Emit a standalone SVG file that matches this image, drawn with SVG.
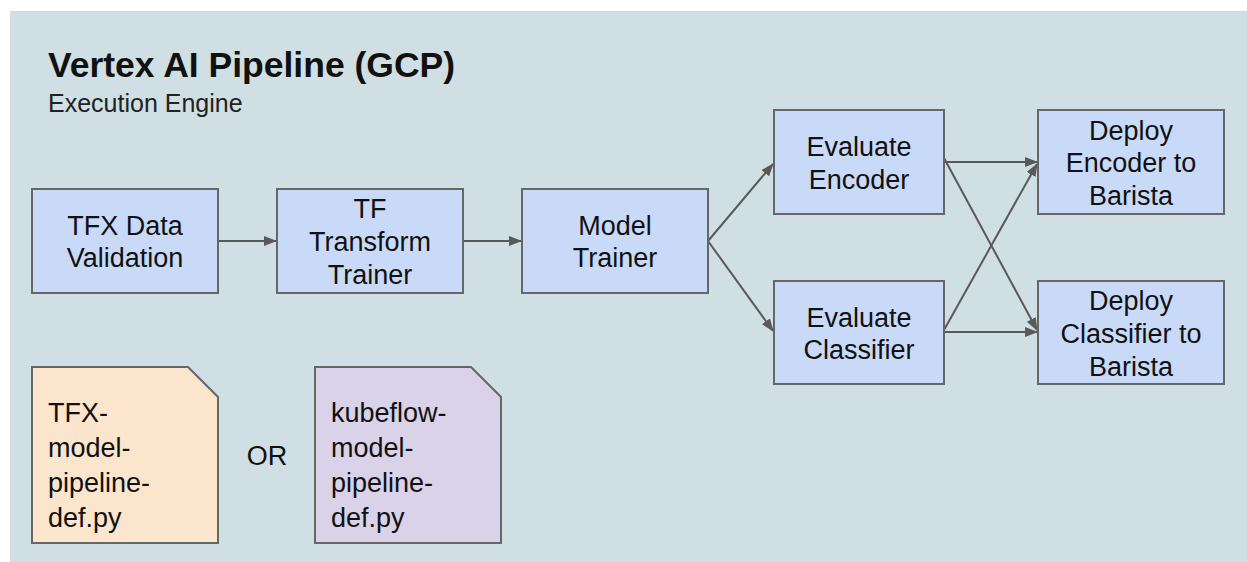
<svg xmlns="http://www.w3.org/2000/svg" width="1247" height="562" viewBox="0 0 1247 562">
<defs>
<style>
.box{fill:#c9daf8;stroke:#666;stroke-width:2}
.t{font-family:"Liberation Sans",Arial,sans-serif;font-size:27px;fill:#111;text-anchor:middle}
.d{font-family:"Liberation Sans",Arial,sans-serif;font-size:27px;fill:#111}
.c{stroke:#595959;stroke-width:2;fill:none;marker-end:url(#ah)}
</style>
<marker id="ah" markerWidth="13" markerHeight="10" refX="12" refY="5" orient="auto" markerUnits="userSpaceOnUse"><path d="M0,0 L13,5 L0,10 Z" fill="#595959"/></marker>
</defs>
<rect x="0" y="0" width="1247" height="562" fill="#ffffff"/>
<rect x="10" y="11" width="1237" height="551" fill="#d0dfe3"/>
<text x="48" y="77" font-family="Liberation Sans,Arial,sans-serif" font-size="35.5" font-weight="bold" fill="#111">Vertex AI Pipeline (GCP)</text>
<text x="48" y="112" font-family="Liberation Sans,Arial,sans-serif" font-size="25" fill="#222">Execution Engine</text>
<g id="connectors">
<line class="c" x1="218" y1="241" x2="276" y2="241"/>
<line class="c" x1="463" y1="241" x2="521" y2="241"/>
<line class="c" x1="708" y1="241" x2="773" y2="164"/>
<line class="c" x1="708" y1="241" x2="773" y2="331"/>
<line class="c" x1="944" y1="162" x2="1037" y2="162"/>
<line class="c" x1="944" y1="158" x2="1037" y2="330"/>
<line class="c" x1="944" y1="332" x2="1037" y2="332"/>
<line class="c" x1="944" y1="330" x2="1037" y2="164"/>
</g>
<g id="tfx-data-validation">
<rect class="box" x="32" y="189" width="186" height="104"/>
<text class="t" x="125" y="235">TFX Data</text>
<text class="t" x="125" y="267">Validation</text>
</g>
<g id="tf-transform-trainer">
<rect class="box" x="277" y="189" width="186" height="104"/>
<text class="t" x="370" y="218">TF</text>
<text class="t" x="370" y="251">Transform</text>
<text class="t" x="370" y="284">Trainer</text>
</g>
<g id="model-trainer">
<rect class="box" x="522" y="189" width="186" height="104"/>
<text class="t" x="615" y="235">Model</text>
<text class="t" x="615" y="267">Trainer</text>
</g>
<g id="evaluate-encoder">
<rect class="box" x="774" y="110" width="170" height="104"/>
<text class="t" x="859" y="156">Evaluate</text>
<text class="t" x="859" y="189">Encoder</text>
</g>
<g id="evaluate-classifier">
<rect class="box" x="774" y="281" width="170" height="103"/>
<text class="t" x="859" y="327">Evaluate</text>
<text class="t" x="859" y="359">Classifier</text>
</g>
<g id="deploy-encoder">
<rect class="box" x="1038" y="110" width="186" height="104"/>
<text class="t" x="1131" y="140">Deploy</text>
<text class="t" x="1131" y="172">Encoder to</text>
<text class="t" x="1131" y="205">Barista</text>
</g>
<g id="deploy-classifier">
<rect class="box" x="1038" y="281" width="186" height="103"/>
<text class="t" x="1131" y="310">Deploy</text>
<text class="t" x="1131" y="343">Classifier to</text>
<text class="t" x="1131" y="376">Barista</text>
</g>
<g id="tfx-doc">
<path d="M32,367 H188 L218,397 V543 H32 Z" fill="#fce5cd" stroke="#666" stroke-width="2"/>
<text class="d" x="48" y="422">TFX-</text>
<text class="d" x="48" y="457">model-</text>
<text class="d" x="48" y="492">pipeline-</text>
<text class="d" x="48" y="527">def.py</text>
</g>
<g id="or-label">
<text class="t" x="267" y="465">OR</text>
</g>
<g id="kubeflow-doc">
<path d="M315,367 H471 L501,397 V543 H315 Z" fill="#d9d2e9" stroke="#666" stroke-width="2"/>
<text class="d" x="331" y="422">kubeflow-</text>
<text class="d" x="331" y="457">model-</text>
<text class="d" x="331" y="492">pipeline-</text>
<text class="d" x="331" y="527">def.py</text>
</g>
</svg>
